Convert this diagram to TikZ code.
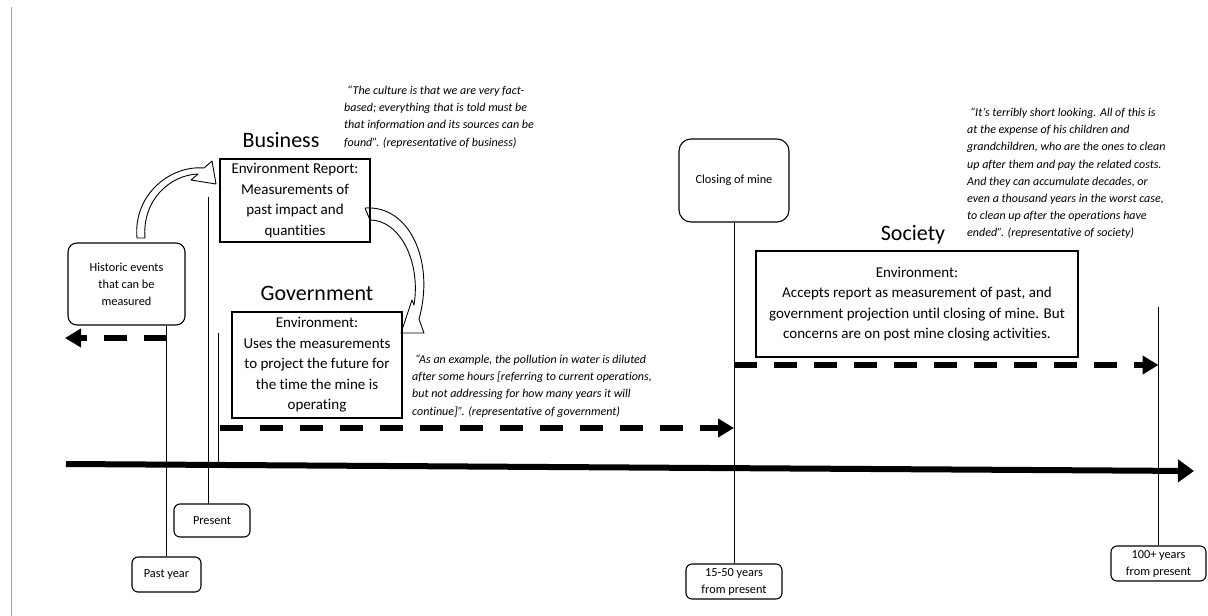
\documentclass[tikz,border=0pt]{standalone}
\usepackage{fontspec}
\setmainfont[Ligatures={TeX,NoCommon}]{Carlito}
\usetikzlibrary{arrows.meta}
\begin{document}
\begin{tikzpicture}[x=1pt,y=-1pt,
  box/.style={draw, line width=1.1pt, align=center, inner sep=0pt,
    font=\fontsize{15}{20.5}\selectfont},
  rbox/.style={draw, line width=1.1pt, rounded corners=9pt, align=center,
    inner sep=0pt, font=\fontsize{12.3}{17}\selectfont},
  title/.style={anchor=base, inner sep=0pt, font=\fontsize{22}{26}\selectfont},
  quote/.style={anchor=north west, align=left, inner sep=0pt,
    font=\fontsize{12}{17.2}\selectfont\itshape},
  tick/.style={line width=0.9pt},
  flow/.style={line width=6pt, dash pattern=on 23pt off 17pt,
    -{Triangle[length=16pt,width=18pt]}},
  axis/.style={line width=6pt, -{Triangle[length=16pt,width=22pt]}},
  bent/.style={draw, fill=white, line width=0.9pt, line join=round}
]
% canvas
\useasboundingbox[fill=white] (0,0) rectangle (1208,616);
\draw[gray!70, line width=0.9pt] (11,7) -- (11,616);

% curved hollow arrows (drawn first, boxes stay on top)
\path[bent] (145,238) .. controls (142,200) and (170,175) .. (198,174)
  -- (191,180) -- (216,184) -- (212,161) -- (204,168)
  .. controls (170,165) and (133,195) .. (137,238) -- cycle;
\path[bent] (365,208) .. controls (410,205) and (435,262) .. (419,319)
  -- (424,333) -- (401,333) -- (412,300) -- (414,305)
  .. controls (421,262) and (400,220) .. (370,220) -- cycle;

% nodes
\node[rbox, minimum width=117pt, minimum height=82pt] (hist) at (126.5,284)
  {Historic events\\that can be\\measured};
\node[rbox, rounded corners=12pt, minimum width=110pt, minimum height=83pt] (closing) at (734,180.5)
  {Closing of mine};
\node[box, minimum width=150pt, minimum height=83pt] (biz) at (295,200.5)
  {Environment Report:\\Measurements of\\past impact and\\quantities};
\node[box, minimum width=170pt, minimum height=106pt] (gov) at (317,365)
  {Environment:\\Uses the measurements\\to project the future for\\the time the mine is\\operating};
\node[box, minimum width=322pt, minimum height=106pt] (soc) at (917,304)
  {Environment:\\Accepts report as measurement of past, and\\government projection until closing of mine. But\\concerns are on post mine closing activities.};

\node[title] (tbiz) at (281,147) {Business};
\node[title] (tgov) at (317,300) {Government};
\node[title] (tsoc) at (913,240) {Society};

\node[quote] (qbiz) at (344,85.6)
  {\hspace*{3pt}“The culture is that we are very fact-\\based; everything that is told must be\\that information and its sources can be\\found”. (representative of business)};
\node[quote] (qgov) at (412,354.6)
  {\hspace*{3pt}“As an example, the pollution in water is diluted\\after some hours [referring to current operations,\\but not addressing for how many years it will\\continue]”. (representative of government)};
\node[quote] (qsoc) at (967,107.6)
  {\hspace*{3pt}“It's terribly short looking. All of this is\\at the expense of his children and\\grandchildren, who are the ones to clean\\up after them and pay the related costs.\\And they can accumulate decades, or\\even a thousand years in the worst case,\\to clean up after the operations have\\ended”. (representative of society)};

\node[rbox, rounded corners=6pt, minimum width=69pt, minimum height=35pt] (past) at (166.5,574.5) {Past year};
\node[rbox, rounded corners=6pt, minimum width=76pt, minimum height=33pt] (present) at (212,520.5) {Present};
\node[rbox, rounded corners=6pt, minimum width=96pt, minimum height=35pt] (mid) at (734,581.5) {15-50 years\\from present};
\node[rbox, rounded corners=6pt, minimum width=95pt, minimum height=35pt] (far) at (1158.5,563.5) {100+ years\\from present};

% anchor points of the time markers
\coordinate (pastTop) at (past.north |- hist.south);
\coordinate (presTop) at (208,197);
\coordinate (presBot) at (208,504);
\coordinate (opTop) at (218,333);
\coordinate (opBot) at (218,464);
\coordinate (farTop) at (far.north |- 0,307);
\coordinate (axL) at (66,464);
\coordinate (axR) at (1194,471);
\coordinate (pastArrowL) at (65,338);
\coordinate (pastArrowR) at (past.north |- 0,338);
\coordinate (govL) at (220,428);
\coordinate (govR) at (closing.south |- 0,428);
\coordinate (socL) at (closing.south |- 0,365);
\coordinate (socR) at (farTop |- 0,365);

% vertical markers
\draw[tick] (pastTop) -- (past.north);
\draw[tick] (presTop) -- (presBot);
\draw[tick] (opTop) -- (opBot);
\draw[tick] (closing.south) -- (mid.north);
\draw[tick] (farTop) -- (far.north);

% timeline and periods
\draw[axis] (axL) -- (axR);
\draw[flow] (pastArrowR) -- (pastArrowL);
\draw[flow] (govL) -- (govR);
\draw[flow] (socL) -- (socR);
\end{tikzpicture}
\end{document}
